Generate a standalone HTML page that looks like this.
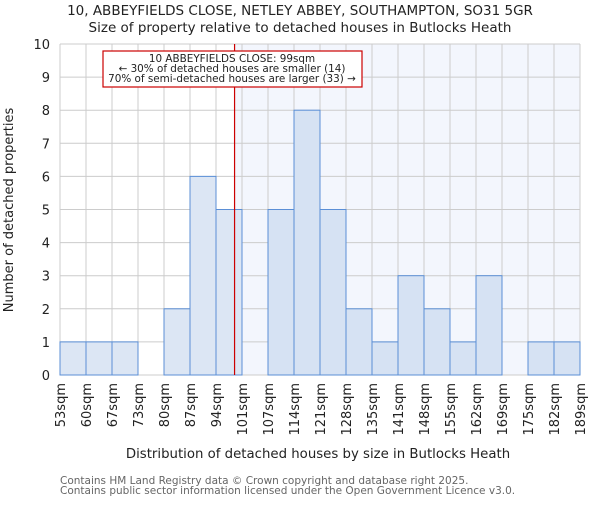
<!DOCTYPE html>
<html><head><meta charset="utf-8"><style>
body{margin:0;background:#fff}
svg text{font-family:"DejaVu Sans","Liberation Sans",sans-serif;fill:#222}
</style></head><body>
<svg width="600" height="500" xmlns="http://www.w3.org/2000/svg">
<g id="root"></g>
</svg>
<script>
const binLabels=["53sqm","60sqm","67sqm","73sqm","80sqm","87sqm","94sqm","101sqm","107sqm","114sqm","121sqm","128sqm","135sqm","141sqm","148sqm","155sqm","162sqm","169sqm","175sqm","182sqm","189sqm"];
const counts=[1,1,1,0,2,6,5,0,5,8,5,2,1,3,2,1,3,0,1,1];
const yTicks=[0,1,2,3,4,5,6,7,8,9,10];
const markerBinPos=[6.714];
const NS="http://www.w3.org/2000/svg";
const root=document.getElementById('root');
const L=60,R=580,T=44,B=375,yMax=10;
const nb=counts.length,bw=(R-L)/nb;
const x=i=>L+i*bw, y=v=>B-(B-T)*v/yMax;
function el(t,a,txt){const e=document.createElementNS(NS,t);for(const k in a)e.setAttribute(k,a[k]);if(txt!=null)e.textContent=txt;root.appendChild(e);return e;}
const mx=x(markerBinPos[0]);
let e=el('rect',{x:mx,y:T,width:R-mx,height:B-T,fill:'#f3f6fd'});


for(let i=0;i<=nb;i++){e=el('line',{x1:x(i),x2:x(i),y1:T,y2:B,stroke:'#cccccc'});

}
yTicks.forEach(v=>{e=el('line',{x1:L,x2:R,y1:y(v),y2:y(v),stroke:'#cccccc'});


e=el('text',{x:L-10,y:y(v)+5,'text-anchor':'end','font-size':13},v);

});
counts.forEach((c,i)=>{if(c<=0)return;e=el('rect',{x:x(i),y:y(c),width:bw,height:B-y(c),fill:i>=7?'#d6e2f3':'#dce6f4',stroke:'#5b8fd6','stroke-width':1});

});
binLabels.forEach((s,i)=>{e=el('text',{transform:`translate(${x(i)+5},383) rotate(-90)`,'text-anchor':'end','font-size':13},s);

});
e=el('line',{x1:mx,x2:mx,y1:T,y2:B,stroke:'#cc0000','stroke-width':1.2});


e=el('rect',{x:103,y:51,width:259,height:36,fill:'#fff',stroke:'#cc0000','stroke-width':1.2});


[["10 ABBEYFIELDS CLOSE: 99sqm",62],["← 30% of detached houses are smaller (14)",72],["70% of semi-detached houses are larger (33) →",82]].forEach(([t,yy])=>{e=el('text',{x:232,y:yy,'text-anchor':'middle','font-size':10.4},t);

});
e=el('text',{x:300,y:15,'text-anchor':'middle','font-size':13.5},"10, ABBEYFIELDS CLOSE, NETLEY ABBEY, SOUTHAMPTON, SO31 5GR");


e=el('text',{x:300,y:32,'text-anchor':'middle','font-size':13.5},"Size of property relative to detached houses in Butlocks Heath");


e=el('text',{x:318,y:458,'text-anchor':'middle','font-size':13.3},"Distribution of detached houses by size in Butlocks Heath");


e=el('text',{transform:'translate(13,210) rotate(-90)','text-anchor':'middle','font-size':13},"Number of detached properties");


e=el('text',{x:60,y:484,'font-size':10.5,style:'fill:#666'},"Contains HM Land Registry data © Crown copyright and database right 2025.");


e=el('text',{x:60,y:494,'font-size':10.5,style:'fill:#666'},"Contains public sector information licensed under the Open Government Licence v3.0.");


</script>
</body></html>
